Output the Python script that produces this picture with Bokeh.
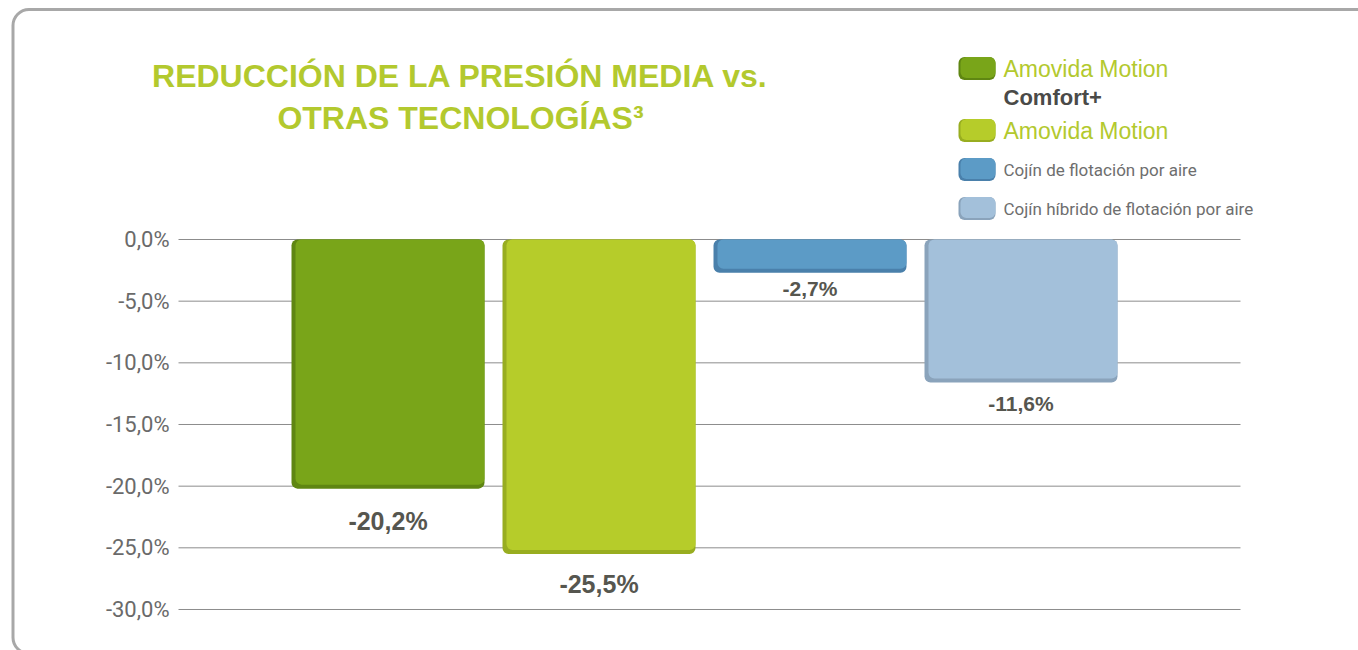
from bokeh.plotting import figure
from bokeh.models import Range1d, ColumnDataSource
from bokeh.core.properties import value
from bokeh.embed import file_html
from bokeh.resources import INLINE

# ---- data ----
categories = ["Amovida Motion Comfort+", "Amovida Motion",
              "Cojín de flotación por aire", "Cojín híbrido de flotación por aire"]
reduction = [-20.2, -25.5, -2.7, -11.6]
value_labels = ["-20,2%", "-25,5%", "-2,7%", "-11,6%"]
tick_values = [0, -5, -10, -15, -20, -25, -30]
tick_labels = ["0,0%", "-5,0%", "-10,0%", "-15,0%", "-20,0%", "-25,0%", "-30,0%"]
title_lines = ["REDUCCIÓN DE LA PRESIÓN MEDIA vs.", "OTRAS TECNOLOGÍAS³"]

# ---- styles ----
bar_colors = ["#79a519", "#b6cc2a", "#5c9bc6", "#a3c0da"]
shadow_colors = ["#5f8612", "#98ad20", "#4a80ab", "#8aa3bb"]
label_sizes = ["25px", "25px", "21px", "21px"]
label_offsets = [32, 30, 16, 21]
LIME = "#b3c92e"
W, H = 1358, 650
PX_PER_X = 211.0
PX_PER_Y = 12.333
X0_PX = 387.5     # pixel of first category centre
Y0_PX = 239.0     # pixel of 0 %

def dx(px):
    return (px - X0_PX) / PX_PER_X

def dy(py):
    return (Y0_PX - py) / PX_PER_Y

p = figure(width=W, height=H, output_backend="svg", toolbar_location=None,
           x_axis_location=None, y_axis_location=None, min_border=0,
           x_range=Range1d(dx(0), dx(W)), y_range=Range1d(dy(H), dy(0)))
p.outline_line_color = None
p.grid.visible = False
p.background_fill_color = "white"
p.border_fill_color = "white"

# outer rounded frame
p.quad(left=[dx(12.5)], right=[dx(1420)], top=[dy(9)], bottom=[dy(653)],
       fill_color=None, line_color="#a8a8a8", line_width=3, border_radius=16)

# gridlines
p.segment(x0=[dx(178)] * len(tick_values), x1=[dx(1240)] * len(tick_values),
          y0=tick_values, y1=tick_values, line_color="#8c8c8c", line_width=1)

# y tick labels
p.text(x=[dx(169)] * len(tick_values), y=tick_values, text=tick_labels,
       text_align="right", text_baseline="middle",
       text_font=value("Roboto"), text_font_size="22px",
       text_color="#6a6a6a")

# bars (shadow + face)
idx = list(range(len(categories)))
bw = 193 / PX_PER_X
src = ColumnDataSource(dict(x=idx, top=[0] * 4, bottom=reduction,
                            face=bar_colors, shade=shadow_colors,
                            lab=value_labels, fs=label_sizes, off=label_offsets))
p.vbar(x="x", width=bw, top="top", bottom="bottom", fill_color="shade",
       line_color=None, border_radius=6, source=src)
p.quad(left=[i - bw / 2 + 4 / PX_PER_X for i in idx],
       right=[i + bw / 2 for i in idx],
       top=[0] * 4, bottom=[v + 4 / PX_PER_Y for v in reduction],
       fill_color=bar_colors, line_color=None, border_radius=6)

# value labels
p.text(x="x", y="bottom", text="lab", y_offset="off", text_align="center",
       text_baseline="middle", text_font=value("Liberation Sans"),
       text_font_style="bold", text_font_size="fs", text_color="#56564f",
       source=src)

# title
p.text(x=[dx(460), dx(460)], y=[dy(75), dy(117)], text=title_lines,
       text_align="center", text_baseline="middle",
       text_font=value("Liberation Sans"), text_font_style="bold",
       text_font_size="32px", text_color=LIME)

# legend
sw_y = [68, 130, 169, 208]
p.quad(left=[dx(958)] * 4, right=[dx(995)] * 4,
       top=[dy(y - 11.5) for y in sw_y], bottom=[dy(y + 11.5) for y in sw_y],
       fill_color=shadow_colors, line_color=None, border_radius=6)
p.quad(left=[dx(960)] * 4, right=[dx(995)] * 4,
       top=[dy(y - 11.5) for y in sw_y], bottom=[dy(y + 9.5) for y in sw_y],
       fill_color=bar_colors, line_color=None, border_radius=6)

leg_main = [categories[0].replace(" Comfort+", ""), categories[1]]
p.text(x=[dx(1003)] * 2, y=[dy(68), dy(130)], text=leg_main,
       text_baseline="middle", text_font=value("Liberation Sans"),
       text_font_size="23px", text_color=LIME)
p.text(x=[dx(1003)], y=[dy(97)], text=["Comfort+"],
       text_baseline="middle", text_font=value("Liberation Sans"),
       text_font_style="bold", text_font_size="22px", text_color="#4a4a48")
p.text(x=[dx(1003)] * 2, y=[dy(169), dy(208)], text=categories[2:],
       text_baseline="middle", text_font=value("Roboto"),
       text_font_size="17px", text_color="#6e6e6e")

open("out.html", "w").write(file_html(p, INLINE))
